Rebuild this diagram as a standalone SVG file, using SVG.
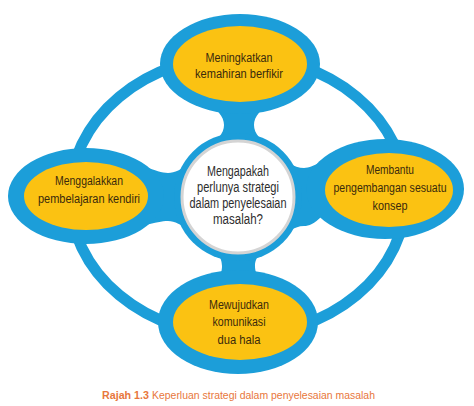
<svg xmlns="http://www.w3.org/2000/svg" width="474" height="406" viewBox="0 0 474 406">
<style>
.blue{fill:#1c9ed9}
.yel{fill:#fbc212}
.ring{fill:none;stroke:#1c9ed9;stroke-width:11}
.t{font-family:"Liberation Sans",Arial,sans-serif;font-size:12.5px;fill:#3a2a0c;text-anchor:middle}
.c{font-family:"Liberation Sans",Arial,sans-serif;font-size:14px;fill:#2e2e2e;text-anchor:middle}
.cap{font-family:"Liberation Sans",Arial,sans-serif;font-size:11.5px;fill:#e8773c}
</style>
<rect width="474" height="406" fill="#fff"/>
<g id="connectors">
<ellipse class="ring" cx="238" cy="196" rx="168" ry="140"/>
<path class="blue" d="M200,100 C218,108 224,117 224,125 C224,133 218,142 200,150 L278,150 C260,142 254,133 254,125 C254,117 260,108 278,100 Z"/>
<path class="blue" d="M200,292 C218,284 222,275 222,266 C222,258 218,250 200,242 L278,242 C260,250 255,258 255,266 C255,275 260,284 278,292 Z"/>
<path class="blue" d="M145,167 C155,170 162,173 168,173 C175,173 181,169 190,164 L190,230 C181,225 175,221 168,221 C162,221 155,223 145,225 Z"/>
<path class="blue" d="M322,162 C314,165 309,168 304,168 C299,168 294,166 288,163 L288,231 C294,228 299,226 304,226 C309,226 314,224 322,216 Z"/>
</g>
<g id="center">
<circle class="blue" cx="238" cy="197" r="64"/>
<circle cx="238" cy="197" r="56" fill="#fff" stroke="#d4d4d4" stroke-width="3"/>
<text class="c" x="238" y="176" textLength="62" lengthAdjust="spacingAndGlyphs">Mengapakah</text>
<text class="c" x="238" y="192" textLength="82" lengthAdjust="spacingAndGlyphs">perlunya strategi</text>
<text class="c" x="238" y="208" textLength="97" lengthAdjust="spacingAndGlyphs">dalam penyelesaian</text>
<text class="c" x="238" y="224" textLength="50" lengthAdjust="spacingAndGlyphs">masalah?</text>
</g>
<g id="node-top">
<ellipse class="blue" cx="240" cy="64" rx="80" ry="50"/>
<ellipse class="yel" cx="240" cy="64" rx="67" ry="38"/>
<text class="t" x="239" y="62" textLength="67" lengthAdjust="spacingAndGlyphs">Meningkatkan</text>
<text class="t" x="239" y="78" textLength="88" lengthAdjust="spacingAndGlyphs">kemahiran berfikir</text>
</g>
<g id="node-left">
<ellipse class="blue" cx="86" cy="196" rx="78" ry="48"/>
<ellipse class="yel" cx="86" cy="196" rx="62" ry="34"/>
<text class="t" x="89" y="185" textLength="68" lengthAdjust="spacingAndGlyphs">Menggalakkan</text>
<text class="t" x="89" y="203" textLength="102" lengthAdjust="spacingAndGlyphs">pembelajaran kendiri</text>
</g>
<g id="node-right">
<ellipse class="blue" cx="385" cy="189" rx="79" ry="50"/>
<ellipse class="yel" cx="389" cy="190" rx="64" ry="37"/>
<text class="t" x="390" y="174" textLength="48" lengthAdjust="spacingAndGlyphs">Membantu</text>
<text class="t" x="390" y="192" textLength="113" lengthAdjust="spacingAndGlyphs">pengembangan sesuatu</text>
<text class="t" x="390" y="210" textLength="35" lengthAdjust="spacingAndGlyphs">konsep</text>
</g>
<g id="node-bottom">
<ellipse class="blue" cx="238" cy="322" rx="80" ry="52"/>
<ellipse class="yel" cx="240" cy="322" rx="67" ry="38"/>
<text class="t" x="239" y="309" textLength="60" lengthAdjust="spacingAndGlyphs">Mewujudkan</text>
<text class="t" x="239" y="326" textLength="53" lengthAdjust="spacingAndGlyphs">komunikasi</text>
<text class="t" x="239" y="344" textLength="43" lengthAdjust="spacingAndGlyphs">dua hala</text>
</g>
<text class="cap" x="102" y="399" font-weight="bold" textLength="47" lengthAdjust="spacingAndGlyphs">Rajah 1.3</text>
<text class="cap" x="152" y="399" textLength="223" lengthAdjust="spacingAndGlyphs">Keperluan strategi dalam penyelesaian masalah</text>
</svg>
